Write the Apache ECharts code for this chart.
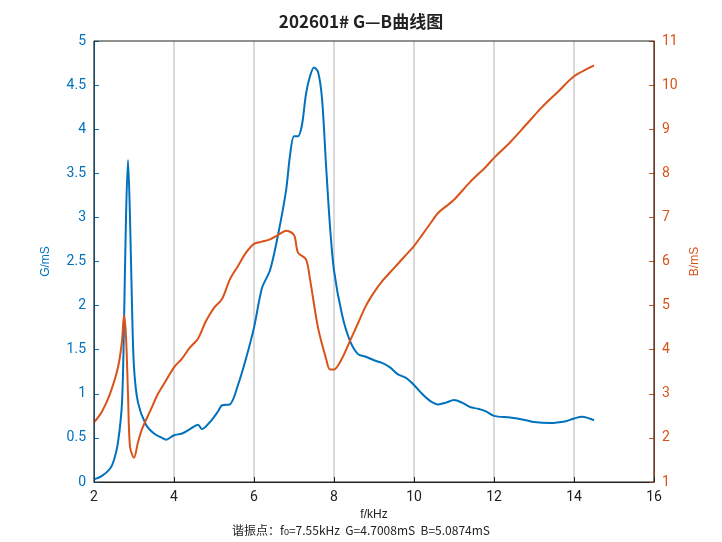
<!DOCTYPE html><html><head><meta charset="utf-8"><script src="https://cdn.jsdelivr.net/npm/echarts@6/dist/echarts.min.js"></script></head><body style="margin:0"><div id="c" style="width:722px;height:542px"></div><script>
const freqG=[2,2.2,2.4,2.5,2.6,2.7,2.75,2.8,2.85,2.9,2.95,3,3.1,3.3,3.5,3.7,3.8,4,4.2,4.4,4.6,4.7,4.9,5.1,5.2,5.4,5.6,5.8,6,6.2,6.4,6.6,6.8,6.9,7,7.1,7.2,7.3,7.4,7.5,7.6,7.7,7.8,7.9,8,8.2,8.4,8.6,8.8,9,9.2,9.4,9.6,9.8,10,10.2,10.4,10.6,10.8,11,11.2,11.4,11.6,11.8,12,12.4,12.8,13,13.4,13.8,14,14.2,14.5];
const gVals=[0.03,0.07,0.15,0.25,0.45,0.9,1.8,3.0,3.65,3.0,2.0,1.3,0.9,0.65,0.55,0.5,0.48,0.53,0.55,0.6,0.65,0.6,0.68,0.8,0.87,0.88,1.1,1.4,1.75,2.2,2.4,2.8,3.3,3.7,3.92,3.92,4.05,4.4,4.6,4.7,4.65,4.35,3.6,2.9,2.4,1.9,1.6,1.45,1.42,1.38,1.35,1.3,1.22,1.18,1.1,1.0,0.92,0.88,0.9,0.93,0.9,0.85,0.83,0.8,0.75,0.73,0.7,0.68,0.67,0.69,0.72,0.74,0.7];
const freqB=[2,2.2,2.4,2.6,2.7,2.75,2.8,2.85,2.9,3,3.1,3.2,3.4,3.6,3.8,4,4.2,4.4,4.6,4.8,5,5.2,5.4,5.6,5.8,6,6.2,6.4,6.6,6.8,7,7.1,7.3,7.4,7.6,7.8,7.9,8,8.2,8.4,8.6,8.8,9,9.2,9.4,9.6,9.8,10,10.2,10.4,10.6,10.8,11,11.4,11.8,12,12.4,12.8,13.2,13.6,14,14.4,14.5];
const bVals=[2.35,2.6,3.0,3.6,4.2,4.78,4.3,3.0,1.8,1.55,1.9,2.2,2.6,3.0,3.3,3.6,3.8,4.05,4.25,4.65,4.95,5.15,5.6,5.9,6.2,6.4,6.45,6.5,6.6,6.7,6.6,6.2,6.05,5.6,4.5,3.8,3.55,3.55,3.8,4.2,4.6,5.0,5.3,5.55,5.75,5.95,6.15,6.35,6.6,6.85,7.1,7.25,7.4,7.8,8.15,8.35,8.7,9.1,9.5,9.85,10.2,10.4,10.45];
const c=echarts.init(document.getElementById('c'));
const ax={fontFamily:'Roboto',fontSize:14};
c.setOption({animation:false,
title:{text:'202601# G—B曲线图',left:'center',top:8,textStyle:{fontSize:17,fontWeight:'bold',color:'#222',fontFamily:'Noto Sans CJK SC'}},
grid:{left:94,right:68,top:41,bottom:60},
graphic:[{type:'rect',shape:{x:94,y:41,width:560,height:441},style:{fill:'none',stroke:'#222',lineWidth:1},z:10},
{type:'text',left:'center',top:524,style:{text:'谐振点：f{s|0}=7.55kHz  G=4.7008mS  B=5.0874mS',rich:{s:{fontSize:9,verticalAlign:'bottom',padding:[6,0,0,0]}},fontSize:12,fill:'#222',fontFamily:'Noto Sans CJK SC'}}],
xAxis:{type:'value',min:2,max:16,interval:2,name:'f/kHz',nameLocation:'middle',nameGap:25,nameTextStyle:{color:'#222',fontSize:12},
axisLine:{lineStyle:{color:'#222'}},axisTick:{inside:true,lineStyle:{color:'#222'}},axisLabel:Object.assign({color:'#222'},ax),
splitLine:{show:true,lineStyle:{color:'#ccc',width:1.5}}},
yAxis:[{type:'value',min:0,max:5,interval:0.5,name:'G/mS',nameLocation:'middle',nameGap:42,nameTextStyle:{color:'#0072BD',fontSize:12},
axisLine:{show:true,lineStyle:{color:'#0072BD'}},axisTick:{show:true,inside:true},axisLabel:Object.assign({color:'#0072BD'},ax),splitLine:{show:false}},
{type:'value',min:1,max:11,interval:1,name:'B/mS',nameLocation:'middle',nameGap:34,nameRotate:90,nameTextStyle:{color:'#D95319',fontSize:12},
axisLine:{show:true,lineStyle:{color:'#D95319'}},axisTick:{show:true,inside:true},axisLabel:Object.assign({color:'#D95319'},ax),splitLine:{show:false}}],
series:[{type:'line',smooth:0.3,showSymbol:false,yAxisIndex:0,data:freqG.map((f,i)=>[f,gVals[i]]),lineStyle:{color:'#0072BD',width:2}},
{type:'line',smooth:0.3,showSymbol:false,yAxisIndex:1,data:freqB.map((f,i)=>[f,bVals[i]]),lineStyle:{color:'#D95319',width:2}}]});
</script></body></html>
